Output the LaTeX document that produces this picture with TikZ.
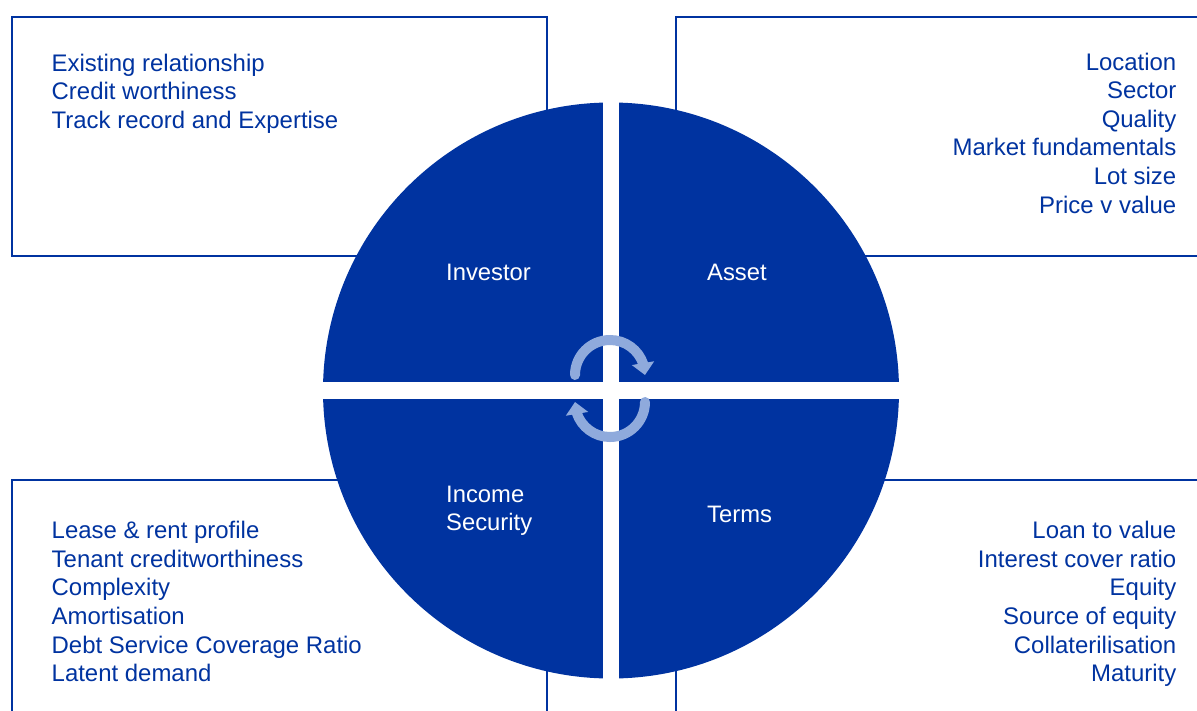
\documentclass[tikz,border=0pt]{standalone}
\usepackage{fontspec}
\setmainfont{Liberation Sans}
\usetikzlibrary{arrows.meta,bending}
\definecolor{navy}{HTML}{0033A0}
\definecolor{lightarrow}{HTML}{8FAADC}
\tikzset{
  frame/.style={draw=navy,line width=2.5pt},
  listtext/.style={inner sep=0pt,text=navy,font=\fontsize{23.95}{28.6}\selectfont},
  quadlabel/.style={inner sep=0pt,text=white,font=\fontsize{23.8}{28.6}\selectfont,anchor=base west},
  cyclearrow/.style={draw=lightarrow,line width=10pt,line cap=round,-{Triangle[width=22pt,length=12pt]}}
}
\begin{document}
\begin{tikzpicture}[x=1pt,y=-1pt]
\clip (0,0) rectangle (1197,710);
\fill[white] (0,0) rectangle (1197,710);
% boxes
\draw[frame] (12,17) rectangle (547,256);
\draw[frame] (676,17) rectangle (1220,256);
\draw[frame] (12,480) rectangle (547,740);
\draw[frame] (676,480) rectangle (1220,740);
% circle quadrants
\coordinate (c) at (611,390.5);
\begin{scope}
  \clip (c) circle (288);
  \fill[navy] (300,90) rectangle (603,382);
  \fill[navy] (619,90) rectangle (920,382);
  \fill[navy] (300,399) rectangle (603,700);
  \fill[navy] (619,399) rectangle (920,700);
\end{scope}
% cycle arrows
\coordinate (ua) at (575,375);
\coordinate (la) at (645,402);
\draw[cyclearrow] (ua) arc[start angle=180,end angle=360,radius=35];
\draw[cyclearrow] (la) arc[start angle=0,end angle=180,radius=35];
% quadrant labels
\node[quadlabel] (inv) at (446,280) {Investor};
\node[quadlabel] (ast) at (707,280) {Asset};
\node[quadlabel] (inc) at (446,502.3) {Income};
\node[quadlabel] (sec) at (446,530.8) {Security};
\node[quadlabel] (trm) at (707,522.3) {Terms};
% top-left list
\foreach \t [count=\i] in {Existing relationship,Credit worthiness,Track record and Expertise}
  \node[listtext,anchor=base west] (tl\i) at (51.5,{71+28.6*(\i-1)}) {\t};
% top-right list
\foreach \t [count=\i] in {Location,Sector,Quality,Market fundamentals,Lot size,Price v value}
  \node[listtext,anchor=base east] (tr\i) at (1176.5,{70+28.6*(\i-1)}) {\t};
% bottom-left list
\foreach \t [count=\i] in {Lease \& rent profile,Tenant creditworthiness,Complexity,Amortisation,Debt Service Coverage Ratio,Latent demand}
  \node[listtext,anchor=base west] (bl\i) at (51.5,{538.3+28.7*(\i-1)}) {\t};
% bottom-right list
\foreach \t [count=\i] in {Loan to value,Interest cover ratio,Equity,Source of equity,Collaterilisation,Maturity}
  \node[listtext,anchor=base east] (br\i) at (1176.5,{538.3+28.7*(\i-1)}) {\t};
\end{tikzpicture}
\end{document}
